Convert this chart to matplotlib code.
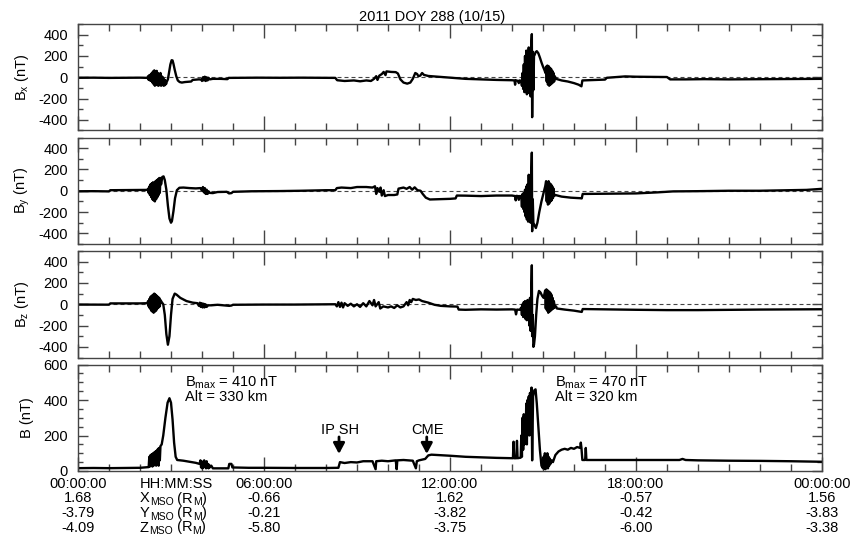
import numpy as np
import matplotlib
matplotlib.use("Agg")
import matplotlib.pyplot as plt
from matplotlib.ticker import MultipleLocator
from matplotlib.transforms import blended_transform_factory, offset_copy

plt.rcParams['font.family'] = ['Liberation Sans', 'DejaVu Sans']
plt.rcParams['font.size'] = 10.5
plt.rcParams['axes.unicode_minus'] = False
plt.rcParams['mathtext.default'] = 'regular'

# ---------------------------------------------------------------------------
# MESSENGER magnetometer data, 2011 DOY 288: (hour of day, nT)
# ---------------------------------------------------------------------------
bx_samples = [
    (0.00, -5), (0.50, -4), (1.00, -6), (1.50, -5), (2.00, -4), (2.24, -6),
    (2.26, 10), (2.28, -25), (2.30, 20), (2.32, -30), (2.34, 25), (2.36, -35),
    (2.38, 40), (2.40, -50), (2.42, 55), (2.44, -65), (2.46, 65), (2.48, -80),
    (2.50, 50), (2.52, -70), (2.54, 60), (2.56, -75), (2.58, 40), (2.60, -80),
    (2.62, 30), (2.64, -60), (2.66, 40), (2.68, -80), (2.70, 10), (2.72, -70),
    (2.74, 0), (2.76, -80), (2.78, -20), (2.80, -75), (2.82, -30), (2.84, -65),
    (2.86, -45), (2.90, -20), (2.94, 50), (2.98, 120), (3.02, 160), (3.05, 158),
    (3.08, 125), (3.12, 70), (3.17, 10), (3.22, -30), (3.28, -45), (3.35, -50),
    (3.45, -45), (3.55, -42), (3.65, -40), (3.70, -25), (3.80, -22), (3.90, -20),
    (3.98, -22), (4.00, -35), (4.03, 0), (4.06, -30), (4.09, 5), (4.12, -35),
    (4.15, 0), (4.18, -30), (4.21, -5), (4.25, -20), (4.35, -15), (4.60, -15),
    (4.82, -18), (4.86, -6),
    (5.20, -5), (5.80, -4), (6.50, -5), (7.20, -4), (7.90, -5), (8.30, -6),
    (8.36, -28), (8.60, -35), (8.90, -30), (9.10, -38), (9.30, -30), (9.45, -35),
    (9.55, -15), (9.62, 10), (9.66, -25), (9.72, 15), (9.80, 30), (9.86, 50),
    (9.92, 20), (9.95, 55), (10.10, 50), (10.25, 48), (10.32, 35), (10.40, -20),
    (10.50, -50), (10.62, -60), (10.72, -50), (10.80, -15), (10.88, 40),
    (10.94, 30), (10.98, 10), (11.04, 15), (11.10, 40), (11.16, 22), (11.30, 12),
    (11.60, 5), (12.00, -5), (12.50, -15), (13.00, -20), (13.50, -25),
    (14.00, -28), (14.08, -30), (14.10, -70), (14.12, -28), (14.20, -35),
    (14.22, -55), (14.24, -30), (14.28, -32),
    (14.30, -40), (14.32, -80), (14.34, 40), (14.36, -110), (14.38, 120),
    (14.40, -140), (14.42, 200), (14.44, -120), (14.46, 250), (14.48, -160),
    (14.50, 230), (14.52, -100), (14.54, 280), (14.56, -150), (14.58, 220),
    (14.60, -180), (14.62, 290), (14.64, 405), (14.65, -375), (14.67, 240),
    (14.69, -120), (14.71, 200), (14.73, 210), (14.76, 235), (14.80, 245),
    (14.85, 225), (14.90, 185), (14.95, 140), (15.00, 100), (15.05, 65),
    (15.08, 40), (15.10, 100), (15.12, -40), (15.14, 110), (15.16, -70),
    (15.18, 105), (15.20, -80), (15.22, 90), (15.24, -70), (15.26, 80),
    (15.28, -60), (15.30, 60), (15.32, -50), (15.34, 40), (15.36, -40),
    (15.38, 10), (15.42, -15), (15.60, -30), (15.80, -40), (16.00, -55),
    (16.15, -70), (16.24, -85), (16.27, -30), (16.60, -26), (17.00, -22),
    (17.06, -5), (17.40, 2), (17.65, 8), (18.00, 5), (18.50, 4), (19.00, 2),
    (19.10, -20), (19.60, -20), (20.20, -18), (21.00, -20), (22.00, -18),
    (23.00, -15), (24.00, -15),
]

by_samples = [
    (0.00, -5), (0.50, -4), (1.00, -6), (1.04, 5), (1.50, 6), (2.00, 8), (2.24, 8),
    (2.26, 20), (2.28, -20), (2.30, 40), (2.32, -40), (2.34, 60), (2.36, -60),
    (2.38, 70), (2.40, -80), (2.42, 80), (2.44, -90), (2.46, 70), (2.48, -100),
    (2.50, 90), (2.52, -80), (2.54, 100), (2.56, -60), (2.58, 110), (2.60, -40),
    (2.62, 120), (2.64, -20), (2.66, 120), (2.68, 60), (2.72, 130), (2.76, 135),
    (2.80, 100), (2.85, 10), (2.90, -140), (2.95, -260), (3.00, -300),
    (3.03, -285), (3.08, -190), (3.13, -70), (3.19, 5), (3.27, 28), (3.40, 30),
    (3.60, 25), (3.80, 22), (3.95, 25), (4.00, 0), (4.03, 35), (4.06, -15),
    (4.09, 25), (4.12, -30), (4.15, 10), (4.18, -30), (4.21, -5), (4.25, -20),
    (4.35, -22), (4.50, -12), (4.80, -10),
    (4.87, -25), (4.95, -22), (5.00, -10), (5.60, -5), (6.50, -3), (7.20, 0),
    (8.00, 5), (8.30, 5), (8.35, 25), (8.50, 30), (8.80, 25), (9.00, 35),
    (9.30, 35), (9.50, 30), (9.58, 42), (9.62, -30), (9.66, 25), (9.72, -10),
    (9.76, 30), (9.80, -45), (9.86, 5), (9.90, -50), (10.00, -40), (10.20, -40),
    (10.30, -35), (10.34, 20), (10.50, 30), (10.60, 18), (10.70, 35),
    (10.78, 10), (10.86, 32), (10.95, 5), (11.05, 0), (11.12, -30),
    (11.22, -65), (11.35, -82), (11.60, -80), (12.00, -76), (12.18, -72),
    (12.22, -45), (12.50, -46), (13.00, -50), (13.50, -45), (14.00, -45),
    (14.10, -50), (14.12, -90), (14.14, -48), (14.20, -50), (14.22, -85),
    (14.24, -50), (14.28, -50),
    (14.30, -60), (14.32, -150), (14.34, -30), (14.36, -170), (14.38, -20),
    (14.40, -200), (14.42, 10), (14.44, -240), (14.46, 40), (14.48, -270),
    (14.50, 60), (14.52, -290), (14.54, 150), (14.56, -260), (14.58, 80),
    (14.60, -300), (14.62, 120), (14.64, 358), (14.65, -380), (14.67, -80),
    (14.69, -300), (14.72, -320), (14.77, -350), (14.82, -300), (14.88, -200),
    (14.95, -100), (15.02, -20), (15.07, 40), (15.10, 90), (15.12, -100),
    (15.14, 80), (15.16, -130), (15.18, 90), (15.20, -120), (15.22, 70),
    (15.24, -100), (15.26, 60), (15.28, -90), (15.30, 40), (15.32, -70),
    (15.34, 20), (15.36, -50), (15.40, -40), (15.60, -55), (15.90, -65),
    (16.20, -70), (16.25, -72), (16.28, -30), (17.00, -28), (18.00, -25),
    (18.70, -15), (19.20, -6), (20.00, -4), (21.00, 0), (22.00, 0),
    (23.00, 5), (23.50, 8), (24.00, 18),
]

bz_samples = [
    (0.00, -3), (0.50, -3), (1.00, -4), (1.04, 8), (1.50, 8), (2.00, 8), (2.24, 10),
    (2.26, 30), (2.28, -20), (2.30, 50), (2.32, -40), (2.34, 70), (2.36, -60),
    (2.38, 80), (2.40, -70), (2.42, 90), (2.44, -80), (2.46, 100), (2.48, -70),
    (2.50, 90), (2.52, -60), (2.54, 80), (2.56, -40), (2.58, 70), (2.60, -30),
    (2.62, 60), (2.64, -20), (2.66, 40), (2.70, 20), (2.75, 0), (2.80, -100),
    (2.85, -280), (2.90, -380), (2.95, -300), (3.00, -100), (3.05, 50),
    (3.12, 100), (3.18, 90), (3.30, 60), (3.50, 30), (3.70, 15), (3.85, 10),
    (3.90, -15), (3.93, 15), (3.96, -25), (3.99, 10), (4.02, -30), (4.05, 5),
    (4.08, -30), (4.11, 0), (4.15, -25), (4.20, -10), (4.30, -10), (4.50, -5),
    (4.88, -15), (4.95, -12),
    (5.00, -5), (6.00, -3), (7.00, -3), (8.00, 0), (8.30, 0),
    (8.35, -20), (8.40, 20), (8.45, -25), (8.50, 15), (8.55, -30), (8.60, 10),
    (8.70, -15), (8.80, 5), (8.90, -20), (9.00, 0), (9.10, -25), (9.20, 10),
    (9.30, -20), (9.40, 30), (9.50, -10), (9.55, 40), (9.60, -20), (9.70, 20),
    (9.75, -40), (9.85, -20), (10.00, -30), (10.10, -20), (10.20, -35),
    (10.30, -10), (10.40, -30), (10.50, -20), (10.60, 20), (10.65, -10),
    (10.70, 40), (10.75, 20), (10.80, 50), (10.90, 40), (11.00, 45),
    (11.10, 30), (11.30, 15), (11.50, -5), (11.70, -15), (12.00, -20),
    (12.24, -22), (12.28, -50), (12.50, -52), (13.00, -48), (13.50, -50),
    (14.00, -48), (14.10, -50), (14.13, -95), (14.16, -50), (14.25, -52),
    (14.30, -30), (14.32, -100), (14.34, 0), (14.36, -120), (14.38, 20),
    (14.40, -100), (14.42, 30), (14.44, -140), (14.46, 0), (14.48, -150),
    (14.50, 40), (14.52, -120), (14.54, -20), (14.56, -200), (14.58, 60),
    (14.60, -250), (14.62, 100), (14.64, 366), (14.65, -300), (14.67, -100),
    (14.69, -400), (14.71, -380), (14.74, -300), (14.78, -100), (14.82, 50),
    (14.87, 125), (14.92, 110), (14.97, 80), (15.02, 60), (15.07, 130),
    (15.09, -40), (15.11, 140), (15.13, -60), (15.15, 130), (15.17, -80),
    (15.19, 120), (15.21, -70), (15.23, 110), (15.25, -60), (15.27, 90),
    (15.29, -50), (15.31, 60), (15.33, -40), (15.35, 30), (15.38, -30),
    (15.42, -20), (15.45, -40), (15.70, -50), (16.00, -60), (16.20, -70),
    (16.25, -72), (16.28, -45), (17.00, -48), (18.00, -52), (19.00, -55),
    (20.00, -55), (21.00, -52), (22.00, -50), (23.00, -48), (24.00, -47),
]

b_samples = [
    (0.00, 16), (0.50, 17), (1.00, 16), (1.50, 17), (2.00, 18), (2.28, 22),
    (2.30, 80), (2.32, 25), (2.34, 90), (2.36, 30), (2.38, 95), (2.40, 25),
    (2.42, 100), (2.44, 30), (2.46, 105), (2.48, 35), (2.50, 110), (2.52, 30),
    (2.54, 115), (2.56, 40), (2.58, 125), (2.60, 30), (2.62, 130), (2.64, 60),
    (2.66, 140), (2.70, 150), (2.75, 200), (2.82, 300), (2.89, 385), (2.95, 410),
    (3.00, 385), (3.05, 290), (3.10, 160), (3.15, 80), (3.20, 62), (3.40, 58),
    (3.60, 52), (3.80, 46), (3.92, 40), (3.95, 60), (3.97, 20), (3.99, 55),
    (4.01, 15), (4.03, 50), (4.05, 20), (4.07, 60), (4.09, 25), (4.11, 45),
    (4.13, 15), (4.15, 55), (4.17, 20), (4.19, 40), (4.21, 15), (4.23, 35),
    (4.25, 20), (4.30, 30), (4.35, 15), (4.45, 15), (4.85, 15), (4.88, 40),
    (4.95, 40), (4.98, 20), (5.50, 18), (6.00, 18), (7.00, 17), (8.00, 17),
    (8.40, 18), (8.45, 50), (8.60, 45), (8.80, 50), (9.00, 48), (9.20, 55),
    (9.50, 55), (9.60, 10), (9.62, 55), (9.80, 58), (10.00, 55), (10.25, 60),
    (10.28, 10), (10.30, 60), (10.50, 62), (10.80, 58), (10.90, 15),
    (10.93, 55), (11.00, 60), (11.20, 68), (11.30, 88), (11.40, 92),
    (11.60, 90), (12.00, 86), (12.50, 80), (13.00, 77), (13.50, 74),
    (14.00, 72), (14.03, 72), (14.05, 165), (14.07, 72), (14.14, 72),
    (14.16, 170), (14.18, 72), (14.28, 75),
    (14.30, 200), (14.32, 80), (14.34, 300), (14.36, 120), (14.38, 320),
    (14.40, 150), (14.42, 260), (14.44, 200), (14.46, 380), (14.48, 150),
    (14.50, 400), (14.52, 250), (14.54, 420), (14.56, 200), (14.58, 440),
    (14.60, 300), (14.63, 470), (14.65, 60), (14.68, 420), (14.72, 455),
    (14.76, 460), (14.80, 380), (14.85, 250), (14.90, 120), (14.95, 30),
    (15.00, 15), (15.02, 80), (15.04, 15), (15.06, 100), (15.08, 10),
    (15.10, 90), (15.12, 20), (15.14, 100), (15.16, 15), (15.18, 80),
    (15.20, 30), (15.22, 70), (15.24, 40), (15.28, 60), (15.32, 50),
    (15.36, 70), (15.40, 90), (15.50, 110), (15.60, 120), (15.70, 125),
    (15.80, 120), (15.90, 130), (16.00, 125), (16.10, 135), (16.20, 130),
    (16.22, 160), (16.24, 130), (16.27, 62), (16.36, 62), (16.38, 130),
    (16.40, 62), (17.00, 62), (18.00, 62), (19.00, 62), (19.40, 62),
    (19.50, 68), (19.60, 62), (20.00, 60), (21.00, 58), (22.00, 57),
    (23.00, 55), (24.00, 52),
]

component_labels = [r'B$_x$ (nT)', r'B$_y$ (nT)', r'B$_z$ (nT)', 'B (nT)']

tick_hours = [0, 6, 12, 18, 24]
time_labels = ['00:00:00', '06:00:00', '12:00:00', '18:00:00', '00:00:00']
x_mso = ['1.68', '-0.66', '1.62', '-0.57', '1.56']
y_mso = ['-3.79', '-0.21', '-3.82', '-0.42', '-3.83']
z_mso = ['-4.09', '-5.80', '-3.75', '-6.00', '-3.38']
# row headers as (text, is_subscript) pieces
row_headers = [
    [('HH:MM:SS', False)],
    [('X', False), ('MSO', True), (' (R', False), ('M', True), (')', False)],
    [('Y', False), ('MSO', True), (' (R', False), ('M', True), (')', False)],
    [('Z', False), ('MSO', True), (' (R', False), ('M', True), (')', False)],
]

closest_approach = [
    # (hour, Bmax nT, altitude km)
    (3.45, 410, 330),
    (15.39, 470, 320),
]
events = [('IP SH', 8.42), ('CME', 11.25)]

# ---------------------------------------------------------------------------
W, H = 853, 537
fig = plt.figure(figsize=(W / 100, H / 100), dpi=100)
renderer = fig.canvas.get_renderer()

frame_color = '#444444'
ax_left, ax_right = 78, 822
panel_tops = [24, 137.5, 251, 364.5]
panel_h = 106.5


def make_axes(top):
    return fig.add_axes([ax_left / W, 1 - (top + panel_h) / H,
                         (ax_right - ax_left) / W, panel_h / H])


def style_axes(ax):
    ax.set_xlim(0, 24)
    ax.xaxis.set_major_locator(MultipleLocator(6))
    ax.xaxis.set_minor_locator(MultipleLocator(1))
    ax.tick_params(which='both', direction='in', top=True, right=True,
                   labelbottom=False, color=frame_color, width=1.0)
    ax.tick_params(axis='x', which='major', length=10)
    ax.tick_params(axis='x', which='minor', length=5)
    ax.tick_params(axis='y', which='major', length=7.2, pad=7.2)
    ax.tick_params(axis='y', which='minor', length=3.6)
    for s in ax.spines.values():
        s.set_color(frame_color)
        s.set_linewidth(1.0)


axes = []
for i, samples in enumerate([bx_samples, by_samples, bz_samples]):
    ax = make_axes(panel_tops[i])
    t, v = np.array(samples, dtype=float).T
    ax.axhline(0, color=frame_color, lw=0.8, ls=(0, (3.6, 2.7)), zorder=1)
    ax.plot(t, v, color='black', lw=1.7, zorder=2)
    ax.set_ylim(-500, 500)
    ax.set_yticks([-400, -200, 0, 200, 400])
    ax.yaxis.set_minor_locator(MultipleLocator(100))
    style_axes(ax)
    axes.append(ax)

ax4 = make_axes(panel_tops[3])
t, v = np.array(b_samples, dtype=float).T
ax4.plot(t, v, color='black', lw=1.7)
ax4.set_ylim(0, 600)
ax4.set_yticks([0, 200, 400, 600])
ax4.yaxis.set_minor_locator(MultipleLocator(50))
style_axes(ax4)
axes.append(ax4)

# Component labels on the left
label_x = [22.5, 22.5, 22.5, 27.5]
for ax, lab, top, lx in zip(axes, component_labels, panel_tops, label_x):
    fig.text(lx / W, 1 - (top + panel_h / 2) / H, lab, rotation=90,
             ha='center', va='center')

# Closest-approach annotations
ann_trans = blended_transform_factory(ax4.transData, ax4.transAxes)
for hour, bmax, alt in closest_approach:
    ax4.text(hour, 0.795, r'B$_{max}$ = %d nT' % bmax, transform=ann_trans,
             ha='left', va='baseline')
    ax4.text(hour, 0.654, 'Alt = %d km' % alt, transform=ann_trans,
             ha='left', va='baseline')

# Event markers
for name, hour in events:
    ax4.annotate('', xy=(hour, 96), xytext=(hour, 192),
                 arrowprops=dict(arrowstyle='-|>,head_length=0.6,head_width=0.32',
                                 color='black', lw=2.0, shrinkA=0, shrinkB=0))
    ax4.text(hour + 0.02, 209, name, ha='center', va='baseline')

# Time and position rows under the bottom panel
row_baselines = [488, 502.5, 517, 531.5]
trans = blended_transform_factory(ax4.transData, fig.transFigure)
for row, base in zip([time_labels, x_mso, y_mso, z_mso], row_baselines):
    for hour, txt in zip(tick_hours, row):
        ax4.text(hour, 1 - base / H, txt, transform=trans, ha='center',
                 va='baseline', clip_on=False)

# Row headers, with small lowered subscripts
for pieces, base in zip(row_headers, row_baselines):
    dx = 0.0
    for txt, is_sub in pieces:
        tr = offset_copy(trans, fig=fig, x=dx, y=-2.5 if is_sub else 0.0,
                         units='dots')
        piece = ax4.text(2.0, 1 - base / H, txt, transform=tr, ha='left',
                         va='baseline', fontsize=7.5 if is_sub else 10.5,
                         clip_on=False)
        dx += piece.get_window_extent(renderer).width

fig.text(431.7 / W, 1 - 21 / H, '2011 DOY 288 (10/15)', ha='center',
         va='baseline')

fig.savefig('out.png', dpi=100)
